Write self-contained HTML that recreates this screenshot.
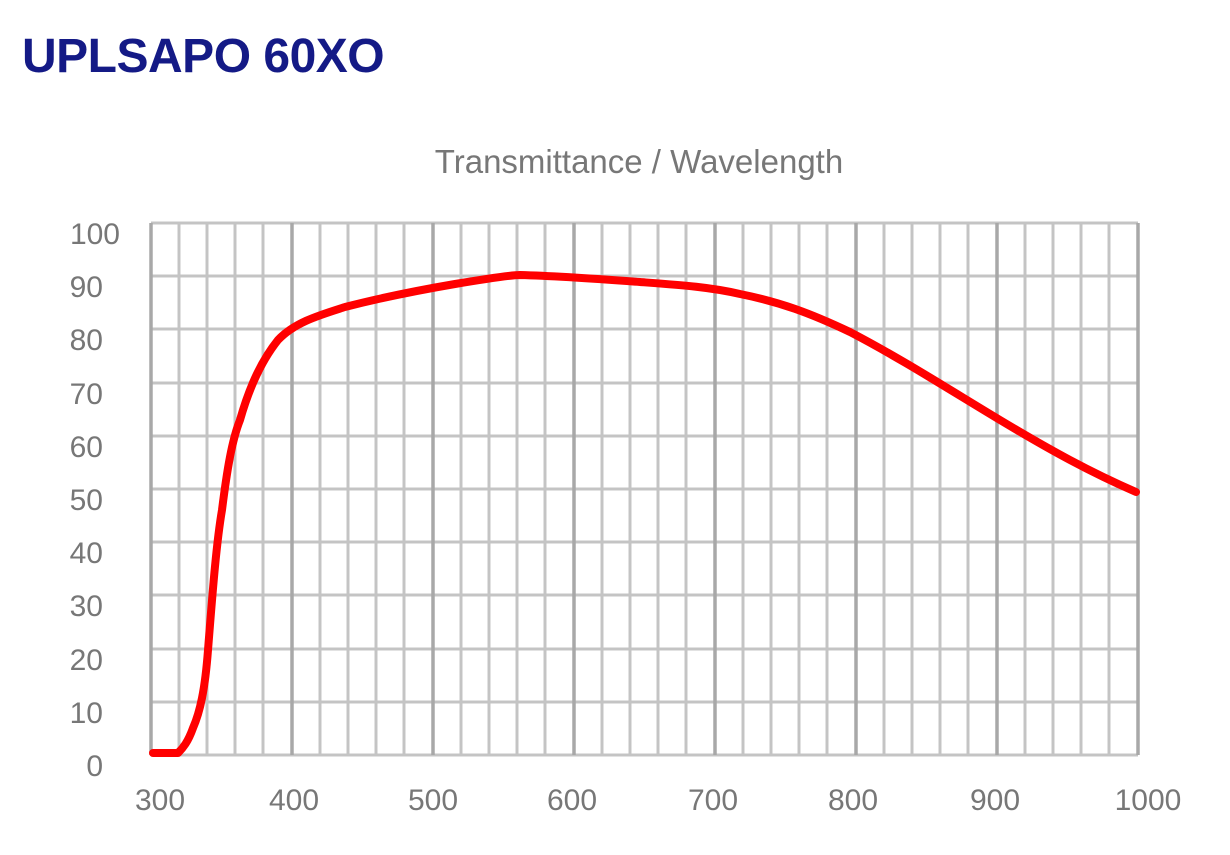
<!DOCTYPE html>
<html><head><style>
body{margin:0;background:#fff;width:1230px;height:850px;overflow:hidden}
</style></head><body>
<svg width="1230" height="850" xmlns="http://www.w3.org/2000/svg" font-family="Liberation Sans, sans-serif">
<text x="22" y="72" font-size="48" font-weight="bold" fill="#141a86" letter-spacing="-0.5">UPLSAPO 60XO</text>
<text x="639" y="173" font-size="33" fill="#777" text-anchor="middle">Transmittance / Wavelength</text>
<g stroke="#c4c4c4" stroke-width="3">
<line x1="179" y1="223" x2="179" y2="755"/><line x1="207" y1="223" x2="207" y2="755"/><line x1="235" y1="223" x2="235" y2="755"/><line x1="263" y1="223" x2="263" y2="755"/>
<line x1="320" y1="223" x2="320" y2="755"/><line x1="348" y1="223" x2="348" y2="755"/><line x1="376" y1="223" x2="376" y2="755"/><line x1="404" y1="223" x2="404" y2="755"/>
<line x1="461" y1="223" x2="461" y2="755"/><line x1="489" y1="223" x2="489" y2="755"/><line x1="517" y1="223" x2="517" y2="755"/><line x1="545" y1="223" x2="545" y2="755"/>
<line x1="602" y1="223" x2="602" y2="755"/><line x1="630" y1="223" x2="630" y2="755"/><line x1="658" y1="223" x2="658" y2="755"/><line x1="686" y1="223" x2="686" y2="755"/>
<line x1="743" y1="223" x2="743" y2="755"/><line x1="771" y1="223" x2="771" y2="755"/><line x1="799" y1="223" x2="799" y2="755"/><line x1="827" y1="223" x2="827" y2="755"/>
<line x1="884" y1="223" x2="884" y2="755"/><line x1="912" y1="223" x2="912" y2="755"/><line x1="940" y1="223" x2="940" y2="755"/><line x1="968" y1="223" x2="968" y2="755"/>
<line x1="1025" y1="223" x2="1025" y2="755"/><line x1="1053" y1="223" x2="1053" y2="755"/><line x1="1081" y1="223" x2="1081" y2="755"/><line x1="1109" y1="223" x2="1109" y2="755"/>
<line x1="151" y1="223" x2="1138" y2="223"/><line x1="151" y1="276" x2="1138" y2="276"/><line x1="151" y1="329" x2="1138" y2="329"/><line x1="151" y1="383" x2="1138" y2="383"/><line x1="151" y1="436" x2="1138" y2="436"/><line x1="151" y1="489" x2="1138" y2="489"/><line x1="151" y1="542" x2="1138" y2="542"/><line x1="151" y1="595" x2="1138" y2="595"/><line x1="151" y1="649" x2="1138" y2="649"/><line x1="151" y1="702" x2="1138" y2="702"/><line x1="151" y1="755" x2="1138" y2="755"/>
</g>
<g stroke="#a8a8a8" stroke-width="3.5">
<line x1="151" y1="223" x2="151" y2="755"/><line x1="292" y1="223" x2="292" y2="755"/><line x1="433" y1="223" x2="433" y2="755"/><line x1="574" y1="223" x2="574" y2="755"/><line x1="715" y1="223" x2="715" y2="755"/><line x1="856" y1="223" x2="856" y2="755"/><line x1="997" y1="223" x2="997" y2="755"/><line x1="1138" y1="223" x2="1138" y2="755"/>
</g>
<g font-size="30" fill="#777" text-anchor="end">
<text x="120" y="244">100</text><text x="103" y="297">90</text><text x="103" y="350">80</text><text x="103" y="404">70</text><text x="103" y="457">60</text><text x="103" y="510">50</text><text x="103" y="563">40</text><text x="103" y="616">30</text><text x="103" y="670">20</text><text x="103" y="723">10</text><text x="103" y="776">0</text>
</g>
<g font-size="30" fill="#777" text-anchor="middle">
<text x="160" y="810">300</text><text x="294" y="810">400</text><text x="433" y="810">500</text><text x="572" y="810">600</text><text x="713" y="810">700</text><text x="853" y="810">800</text><text x="995" y="810">900</text><text x="1148" y="810">1000</text>
</g>
<path d="M153,753 L178,753 C183,748 188,742 193,728 C200,712 205,690 208,650 C212,600 216,545 222,510 C227,470 232,440 240,420 C250,385 262,360 278,340 C295,322 320,315 345,307 C380,298 420,290 455,284 C485,279 510,275 520,275 C560,276 600,279 640,282 C680,285 710,287 740,294 C780,302 810,313 850,332 C900,358 950,390 1000,420 C1050,450 1090,472 1136,492" fill="none" stroke="#ff0000" stroke-width="8" stroke-linejoin="round" stroke-linecap="round"/>
</svg>
</body></html>
